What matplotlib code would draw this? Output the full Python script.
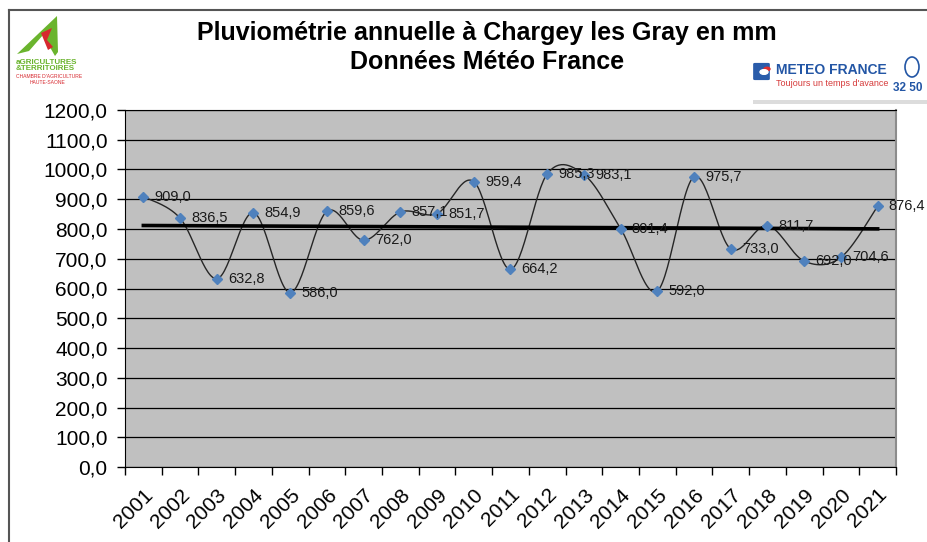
import numpy as np
import matplotlib
matplotlib.use("Agg")
import matplotlib.pyplot as plt
from matplotlib.lines import Line2D
from matplotlib.patches import Polygon, Rectangle, Ellipse, Circle, FancyBboxPatch

plt.rcParams['font.family'] = ['Liberation Sans', 'DejaVu Sans']

annees = ['2001', '2002', '2003', '2004', '2005', '2006', '2007', '2008', '2009', '2010', '2011',
          '2012', '2013', '2014', '2015', '2016', '2017', '2018', '2019', '2020', '2021']
pluie = [909.0, 836.5, 632.8, 854.9, 586.0, 859.6, 762.0, 857.1, 851.7, 959.4, 664.2,
         985.3, 983.1, 801.4, 592.0, 975.7, 733.0, 811.7, 692.0, 704.6, 876.4]
y_ticks = [0, 100, 200, 300, 400, 500, 600, 700, 800, 900, 1000, 1100, 1200]


def lissage(x, y, n=30):
    # courbe lissee type Excel (bezier, tangentes catmull-rom)
    x = np.asarray(x, float)
    y = np.asarray(y, float)
    px = np.concatenate([[x[0]], x, [x[-1]]])
    py = np.concatenate([[y[0]], y, [y[-1]]])
    xs, ys = [], []
    t = np.linspace(0, 1, n)
    for i in range(len(x) - 1):
        p0 = np.array([px[i + 1], py[i + 1]])
        p3 = np.array([px[i + 2], py[i + 2]])
        p1 = p0 + (np.array([px[i + 2], py[i + 2]]) - np.array([px[i], py[i]])) / 6
        p2 = p3 - (np.array([px[i + 3], py[i + 3]]) - np.array([px[i + 1], py[i + 1]])) / 6
        b = ((1 - t) ** 3)[:, None] * p0 + (3 * t * (1 - t) ** 2)[:, None] * p1 \
            + (3 * t ** 2 * (1 - t))[:, None] * p2 + (t ** 3)[:, None] * p3
        xs.extend(b[:, 0])
        ys.extend(b[:, 1])
    return np.array(xs), np.array(ys)


fig = plt.figure(figsize=(9.28, 5.42), dpi=100)
ax = fig.add_axes([125 / 928, 1 - 467 / 542, (896 - 125) / 928, (467 - 110) / 542])
ax.set_facecolor('#C0C0C0')

x = np.arange(len(annees))
xs, ys = lissage(x, pluie)
ax.plot(xs, ys, color='#262626', lw=1.0, zorder=3)
ax.plot(x, pluie, ls='none', marker='D', ms=5, color='#4F81BD', zorder=4)

a, b = np.polyfit(x, pluie, 1)
ax.plot([x[0], x[-1]], [a * x[0] + b, a * x[-1] + b], color='black', lw=2.6, zorder=3.5)

for xi, v in zip(x, pluie):
    ax.annotate(f"{v:.1f}".replace('.', ','), (xi, v), xytext=(8, 0), textcoords='offset points',
                ha='left', va='center', fontsize=10.5, color='#1a1a1a', zorder=5)

ax.set_xlim(-0.5, len(annees) - 0.5)
ax.set_ylim(0, 1200)
ax.set_yticks(y_ticks)
ax.set_yticklabels([f"{v:.1f}".replace('.', ',') for v in y_ticks], fontsize=15)
ax.yaxis.grid(True, color='black', lw=0.9)
ax.set_axisbelow(True)
ax.tick_params(axis='y', length=6, width=1, pad=6.5)

ax.set_xticks(x)
ax.set_xticklabels(annees, rotation=45, ha='right', rotation_mode='anchor', fontsize=15)
ax.tick_params(axis='x', which='major', length=0, pad=13)
ax.set_xticks(np.arange(-0.5, len(annees), 1), minor=True)
ax.tick_params(axis='x', which='minor', length=6, width=1)

for s in ['left', 'bottom', 'top']:
    ax.spines[s].set_color('black')
ax.spines['right'].set_color('#8c8c8c')
ax.spines['right'].set_linewidth(1.5)

# cadre exterieur
fig.add_artist(Line2D([9 / 928, 9 / 928], [0, 1 - 10 / 542], transform=fig.transFigure, color='#555555', lw=1.5))
fig.add_artist(Line2D([9 / 928, 1], [1 - 10 / 542, 1 - 10 / 542], transform=fig.transFigure, color='#555555', lw=1.5))

fig.text(487 / 928, 1 - 33 / 542, "Pluviométrie annuelle à Chargey les Gray en mm", ha='center', va='center',
         fontsize=18, fontweight='bold')
fig.text(487 / 928, 1 - 62 / 542, "Données Météo France", ha='center', va='center',
         fontsize=18, fontweight='bold')

# logo chambre d'agriculture
W, H = 928, 542


def fp(px, py):
    return (px / W, 1 - py / H)


fig.add_artist(Polygon([fp(17, 54), fp(57, 16), fp(58, 52), fp(55, 56), fp(43, 35), fp(29, 51)],
                       closed=True, transform=fig.transFigure, color='#6ab42d', lw=0))
fig.add_artist(Polygon([fp(41, 33), fp(52, 28), fp(47, 40), fp(53, 47), fp(48, 50)],
                       closed=True, transform=fig.transFigure, color='#d7282f', lw=0))
fig.text(16 / W, 1 - 62 / H, "aGRICULTURES", fontsize=5.8, color='#6ab42d', fontweight='bold', va='center')
fig.text(16 / W, 1 - 69 / H, "&TERRITOIRES", fontsize=5.8, color='#6ab42d', fontweight='bold', va='center')
fig.text(16 / W, 1 - 76 / H, "CHAMBRE D'AGRICULTURE", fontsize=3.6, color='#d7282f', va='center')
fig.text(30 / W, 1 - 82 / H, "HAUTE-SAONE", fontsize=3.6, color='#d7282f', va='center')

# logo meteo france
fig.add_artist(Rectangle(fp(753, 104), 180 / W, 46 / H, transform=fig.transFigure, color='#dcdcdc', lw=0))
fig.add_artist(Rectangle(fp(750, 100), 180 / W, 44 / H, transform=fig.transFigure, color='white', lw=0))
fig.add_artist(FancyBboxPatch(fp(755, 79), 13 / W, 15 / H, boxstyle='round,pad=0.002',
                              transform=fig.transFigure, color='#2a5caa', lw=0))
fig.add_artist(Circle(fp(767, 69), 3 / W, transform=fig.transFigure, color='#e03030'))
fig.add_artist(Circle(fp(764, 72), 4 / W, transform=fig.transFigure, color='white'))
fig.text(776 / W, 1 - 70 / H, "METEO FRANCE", fontsize=10, color='#2356a5', fontweight='bold', va='center')
fig.text(776 / W, 1 - 84 / H, "Toujours un temps d'avance", fontsize=6.5, color='#d63a3a', va='center')
fig.add_artist(Ellipse(fp(912, 67), 14 / W, 20 / H, transform=fig.transFigure, fill=False,
                       edgecolor='#2356a5', lw=1.2))
fig.text(893 / W, 1 - 88 / H, "32 50", fontsize=8.5, color='#2356a5', fontweight='bold', va='center')

fig.savefig('out.png', dpi=100)
